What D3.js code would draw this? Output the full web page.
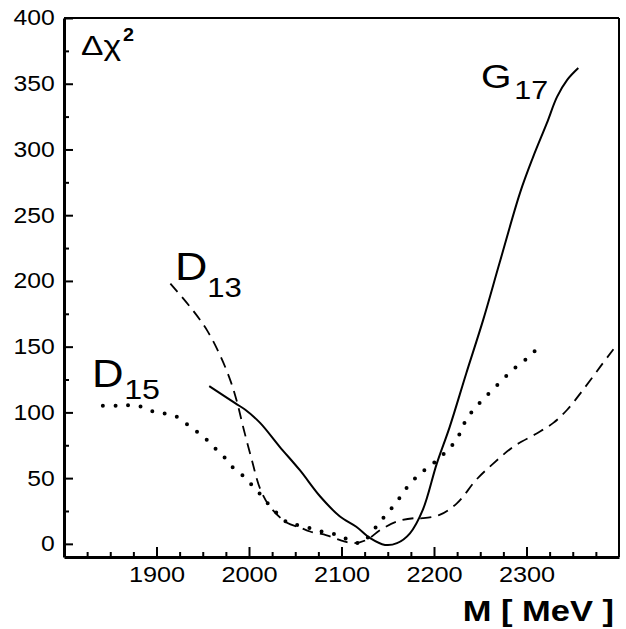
<!DOCTYPE html>
<html>
<head>
<meta charset="utf-8">
<script src="https://cdn.jsdelivr.net/npm/d3@7"></script>
<style>
  body { margin: 0; background: #fff; }
  text { font-family: "Liberation Sans", Arial, sans-serif; fill: #000; }
</style>
</head>
<body>
<div id="chart"></div>
<script>
// G17 fit (solid)
const g17Mass = [1957, 1985, 1996, 2012, 2033, 2055, 2077, 2098, 2116, 2131, 2147, 2160, 2174, 2188, 2203, 2217, 2235, 2253, 2271, 2293, 2307, 2322, 2333, 2344, 2356];
const g17Chi  = [120, 107, 102, 92, 74, 56, 36, 21, 13, 4.3, -0.8, 0.5, 8, 26, 61, 89, 130, 170, 214, 267, 294, 320, 340, 353, 362];

// D13 fit (dashed)
const d13Mass = [1915, 1940, 1955, 1969, 1980, 1987, 1994, 2003, 2012, 2023, 2041, 2055, 2066, 2084, 2100, 2113, 2127, 2142, 2160, 2178, 2188, 2206, 2225, 2246, 2264, 2286, 2311, 2329, 2344, 2361, 2380, 2394];
const d13Chi  = [198, 177, 162, 143, 124, 108, 88, 64, 42, 28, 16, 12.5, 9.4, 6.5, 2.5, 0.5, 3, 10.6, 17, 19.5, 19.5, 22, 31, 49, 61, 74, 84, 92, 102, 117, 135, 148];

// D15 fit (dotted)
const d15Mass = [1842, 1857, 1870, 1883, 1897, 1910, 1923, 1934, 1945, 1956, 1965, 1975, 1984, 1995, 2004, 2013, 2022, 2031, 2042, 2054, 2068, 2081, 2095, 2108, 2121, 2130, 2139, 2148, 2157, 2165, 2173, 2183, 2193, 2204, 2214, 2223, 2230, 2235, 2244, 2253, 2263, 2273, 2283, 2293, 2304, 2313];
const d15Chi  = [105, 105, 105.5, 104.4, 100.6, 99, 96.3, 90.5, 84.6, 78, 71.5, 64.6, 57, 51, 44, 37, 29.4, 22.8, 16, 14, 11.6, 9, 7, 3, 0.5, 6, 14.4, 22, 29.6, 37, 45, 52, 58, 64, 71, 78, 87, 95, 103, 110, 117, 124, 131, 137, 143, 150];

const xTicks = [1900, 2000, 2100, 2200, 2300];
const yTicks = [0, 50, 100, 150, 200, 250, 300, 350, 400];

const W = 626, H = 629;
const plotL = 64, plotR = 619, plotT = 18, plotB = 557;
const stretch = "scale(1.15,1)";

const svg = d3.select("#chart").append("svg")
  .attr("width", W)
  .attr("height", H);

const x = d3.scaleLinear().domain([1800, 2400]).range([plotL, plotR]);
const y = d3.scaleLinear().domain([-10, 400]).range([plotB, plotT]);

// frame (top and right thinner)
svg.append("line").attr("x1", plotL).attr("x2", plotR).attr("y1", plotT).attr("y2", plotT)
  .attr("stroke", "#000").attr("stroke-width", 2);
svg.append("line").attr("x1", plotR).attr("x2", plotR).attr("y1", plotT).attr("y2", plotB)
  .attr("stroke", "#000").attr("stroke-width", 2);

// minor ticks
const xMinor = d3.range(1825, 2400, 25).filter(v => v % 100 !== 0);
const yMinor = d3.range(25, 400, 50);

svg.append("g")
  .attr("transform", `translate(0,${plotB})`)
  .call(d3.axisBottom(x).tickValues(xMinor).tickSize(-5).tickSizeOuter(0).tickFormat(""))
  .call(g => g.select(".domain").remove())
  .call(g => g.selectAll("line").attr("stroke-width", 2));

svg.append("g")
  .attr("transform", `translate(${plotL},0)`)
  .call(d3.axisLeft(y).tickValues(yMinor).tickSize(-5).tickSizeOuter(0).tickFormat(""))
  .call(g => g.select(".domain").remove())
  .call(g => g.selectAll("line").attr("stroke-width", 2));

// major ticks + labels
const xAxis = svg.append("g")
  .attr("transform", `translate(0,${plotB})`)
  .call(d3.axisBottom(x).tickValues(xTicks).tickFormat(d3.format("d"))
    .tickSize(-10).tickSizeOuter(0).tickPadding(9));
xAxis.select(".domain").attr("stroke-width", 3);
xAxis.selectAll("line").attr("stroke-width", 2);
xAxis.selectAll("text")
  .attr("font-size", 22)
  .attr("font-family", "Liberation Sans, Arial, sans-serif")
  .attr("fill", "#000")
  .attr("transform", stretch);

const yAxis = svg.append("g")
  .attr("transform", `translate(${plotL},0)`)
  .call(d3.axisLeft(y).tickValues(yTicks).tickFormat(d3.format("d"))
    .tickSize(-9).tickSizeOuter(0).tickPadding(8));
yAxis.select(".domain").attr("stroke-width", 3);
yAxis.selectAll("line").attr("stroke-width", 2);
yAxis.selectAll("text")
  .attr("font-size", 21.5)
  .attr("font-family", "Liberation Sans, Arial, sans-serif")
  .attr("fill", "#000")
  .attr("transform", stretch);

// curves
const line = d3.line()
  .x(d => x(d[0]))
  .y(d => y(d[1]))
  .curve(d3.curveCatmullRom);

svg.append("path")
  .datum(d13Mass.map((m, i) => [m, d13Chi[i]]))
  .attr("d", line)
  .attr("fill", "none")
  .attr("stroke", "#000")
  .attr("stroke-width", 1.8)
  .attr("stroke-dasharray", "11,7");

svg.append("path")
  .datum(d15Mass.map((m, i) => [m, d15Chi[i]]))
  .attr("d", line)
  .attr("fill", "none")
  .attr("stroke", "#000")
  .attr("stroke-width", 4)
  .attr("stroke-linecap", "round")
  .attr("stroke-dasharray", "0,12.6");

svg.append("path")
  .datum(g17Mass.map((m, i) => [m, g17Chi[i]]))
  .attr("d", line)
  .attr("fill", "none")
  .attr("stroke", "#000")
  .attr("stroke-width", 2);

// curve labels: letter + subscript
function label(px, py, letter, size, sub, subSize, subDx, subDy) {
  const g = svg.append("g").attr("transform", `translate(${px},${py}) ${stretch}`);
  g.append("text").attr("font-size", size).text(letter);
  g.append("text").attr("x", subDx).attr("y", subDy).attr("font-size", subSize).text(sub);
}
label(175, 280, "D", 39, "13", 27, 28, 17);
label(92, 387, "D", 38, "15", 28, 28, 12);
label(481, 87.5, "G", 34, "17", 26.5, 29, 11);

// y title
svg.append("text")
  .attr("transform", "translate(81,55) scale(1.2,1)")
  .attr("font-size", 28)
  .text("Δχ");
svg.append("text")
  .attr("transform", "translate(123,41) scale(1.1,1)")
  .attr("font-size", 18)
  .attr("font-weight", "bold")
  .text("2");

// x title
svg.append("text")
  .attr("transform", `translate(614,621) ${stretch}`)
  .attr("text-anchor", "end")
  .attr("font-size", 30)
  .attr("font-weight", "bold")
  .text("M [ MeV ]");
</script>
</body>
</html>
